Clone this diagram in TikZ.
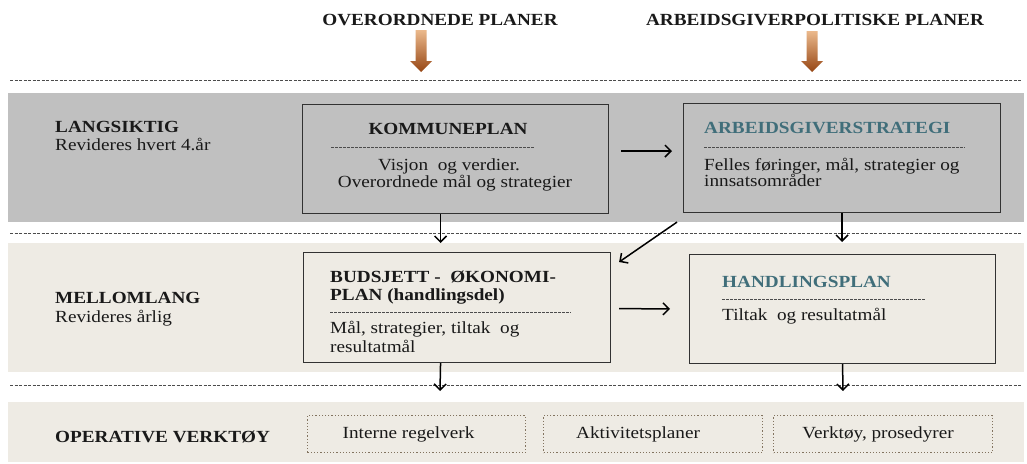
\documentclass[tikz,border=0pt]{standalone}
\usepackage{fontspec}
\setmainfont[FakeStretch=1.13]{Liberation Serif}
\usetikzlibrary{arrows.meta}
\definecolor{bandgray}{RGB}{192,192,192}
\definecolor{bandbeige}{RGB}{238,235,228}
\definecolor{headteal}{RGB}{64,110,122}
\definecolor{boxline}{RGB}{50,50,50}
\definecolor{dotline}{RGB}{130,115,95}
\definecolor{arrtop}{RGB}{235,185,140}
\definecolor{arrbot}{RGB}{150,70,20}
\begin{document}
\begin{tikzpicture}[x=1pt,y=-1pt,
  txt/.style={inner sep=0pt, font=\fontsize{17}{20}\selectfont, text=black!90},
  bt/.style={inner sep=0pt, font=\fontsize{17}{20}\selectfont\bfseries, text=black!90},
  frame/.style={draw=boxline, line width=1.1pt, inner sep=0pt, anchor=north west},
  dotbox/.style={draw=dotline, dotted, line width=1.2pt, inner sep=0pt, anchor=north west,
     minimum height=37pt, font=\fontsize{17}{20}\selectfont, text=black!90},
  sepline/.style={draw=black!70, line width=0.8pt, dash pattern=on 3pt off 1.5pt},
  rule/.style={draw=black!70, line width=0.7pt, dash pattern=on 2.5pt off 1.5pt},
  conn/.style={draw=black, line width=1.5pt, -{Straight Barb[length=6pt,width=12pt]}},
  fat/.style={top color=arrtop, bottom color=arrbot, draw=none}
]
\useasboundingbox (0,0) rectangle (1027,463);
\fill[white] (0,0) rectangle (1027,463);

% bands
\fill[bandgray] (8,93) rectangle (1024,222);
\fill[bandbeige] (8,243) rectangle (1024,372);
\fill[bandbeige] (8,402) rectangle (1024,462);

% separators
\draw[sepline] (10,80) -- (1022,80);
\draw[sepline] (10,233) -- (1022,233);
\draw[sepline] (10,385) -- (1022,385);

% top titles
\node[bt, anchor=base] (t1) at (440,25) {OVERORDNEDE PLANER};
\node[bt, anchor=base] (t2) at (815,25) {ARBEIDSGIVERPOLITISKE PLANER};

% fat arrows
\shade[fat] (415.5,30) -- (426.5,30) -- (426.5,61) -- (432,61) -- (421,72) -- (410,61) -- (415.5,61) -- cycle;
\shade[fat] (806.5,31) -- (817.5,31) -- (817.5,61) -- (823,61) -- (812,72) -- (801,61) -- (806.5,61) -- cycle;

% left labels
\node[bt, anchor=base west] (l1) at (55,132) {LANGSIKTIG};
\node[txt, anchor=base west] (l1b) at (55,150) {Revideres hvert 4.år};
\node[bt, anchor=base west] (l2) at (55,303) {MELLOMLANG};
\node[txt, anchor=base west] (l2b) at (55,322) {Revideres årlig};
\node[bt, anchor=base west] (l3) at (55,442) {OPERATIVE VERKTØY};

% boxes
\node[frame, fill=bandgray, minimum width=306pt, minimum height=109pt] (kp) at (302,104) {};
\node[frame, fill=bandgray, minimum width=317pt, minimum height=109pt] (as) at (683,103) {};
\node[frame, fill=bandbeige, minimum width=307pt, minimum height=110pt] (bu) at (303,252) {};
\node[frame, fill=bandbeige, minimum width=306pt, minimum height=109pt] (hp) at (689,254) {};

% KOMMUNEPLAN
\node[bt, anchor=base] (kpT) at (448,134) {KOMMUNEPLAN};
\draw[rule] (331,147) -- (534,147);
\node[txt, anchor=base] (kp1) at (449,170) {Visjon\ \ og verdier.};
\node[txt, anchor=base] (kp2) at (455,187) {Overordnede mål og strategier};

% ARBEIDSGIVERSTRATEGI
\node[bt, text=headteal, anchor=base west] (asT) at (704,133) {ARBEIDSGIVERSTRATEGI};
\draw[rule] (704,147) -- (965,147);
\node[txt, anchor=base west] (as1) at (704,170) {Felles føringer, mål,\ strategier og};
\node[txt, anchor=base west] (as2) at (704,186) {innsatsområder};

% BUDSJETT
\node[bt, anchor=base west] (buT) at (330,282) {BUDSJETT -\ \ ØKONOMI-};
\node[bt, anchor=base west] (buT2) at (330,300) {PLAN (handlingsdel)};
\draw[rule] (330,312) -- (571,312);
\node[txt, anchor=base west] (bu1) at (330,333) {Mål, strategier, tiltak\ \ og};
\node[txt, anchor=base west] (bu2) at (330,352) {resultatmål};

% HANDLINGSPLAN
\node[bt, text=headteal, anchor=base west] (hpT) at (722,287) {HANDLINGSPLAN};
\draw[rule] (722,299) -- (925,299);
\node[txt, anchor=base west] (hp1) at (722,320) {Tiltak\ \ og resultatmål};

% operative tools
\node[dotbox, minimum width=218pt] (ir) at (307,415) {\hspace*{-16pt}Interne regelverk};
\node[dotbox, minimum width=219pt] (ak) at (543,415) {\hspace*{-30pt}Aktivitetsplaner};
\node[dotbox, minimum width=219pt] (vk) at (773,415) {\hspace*{-10pt}Verktøy, prosedyrer};

% connectors
\coordinate (e1) at (440,391);
\coordinate (e2) at (843,391);
\draw[conn, shorten <=12pt, shorten >=11pt] ([yshift=8pt]kp.east) -- ([yshift=7pt]as.west);
\draw[conn, shorten >=9pt] ([xshift=-15pt]kp.south) -- ([xshift=-16.5pt]bu.north);
\draw[conn, shorten >=12pt] (as.south) -- (as.south |- hp.north);
\draw[conn] ([shift={(-6pt,-9pt)}]as.south west) -- ([shift={(8pt,-10pt)}]bu.north east);
\draw[conn, shorten <=8pt, shorten >=19pt] ([yshift=-1pt]bu.east) -- (hp.west);
\draw[conn] ([xshift=-16.5pt]bu.south) -- (e1);
\draw[conn] (hp.south) -- (e2);
\end{tikzpicture}
\end{document}
